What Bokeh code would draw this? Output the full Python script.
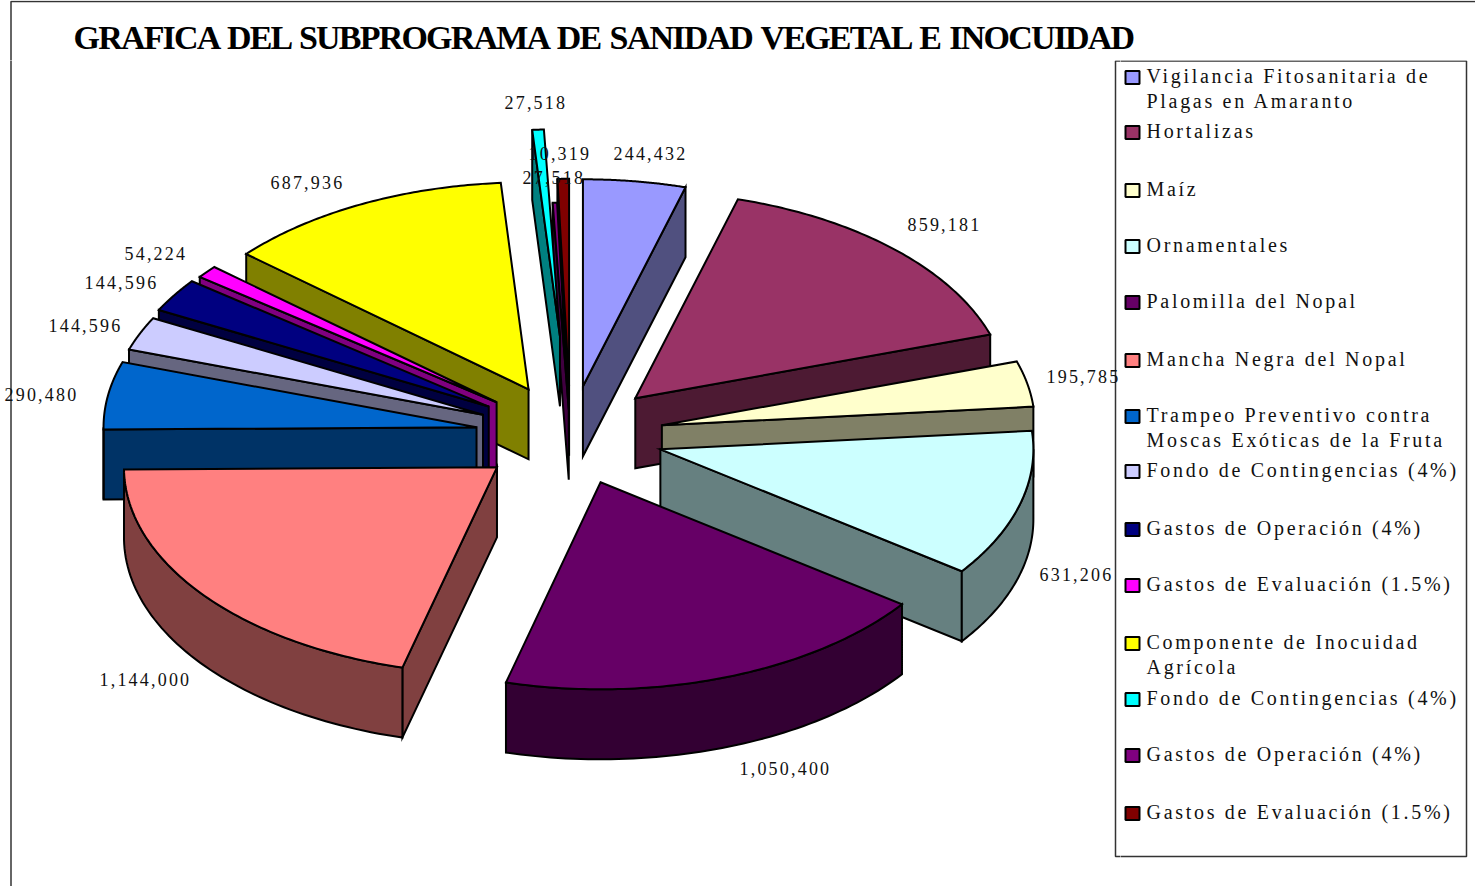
import numpy as np
from bokeh.plotting import figure
from bokeh.layouts import column, row
from bokeh.models import ColumnDataSource, Range1d
from bokeh.core.properties import value
from bokeh.embed import file_html
from bokeh.resources import INLINE

TITLE = "GRAFICA DEL SUBPROGRAMA DE SANIDAD VEGETAL E INOCUIDAD"
legend_labels = [
    "Vigilancia Fitosanitaria de\nPlagas en Amaranto", "Hortalizas", "Maíz", "Ornamentales",
    "Palomilla del Nopal", "Mancha Negra del Nopal",
    "Trampeo Preventivo contra\nMoscas Exóticas de la Fruta",
    "Fondo de Contingencias (4%)", "Gastos de Operación (4%)", "Gastos de Evaluación (1.5%)",
    "Componente de Inocuidad\nAgrícola", "Fondo de Contingencias (4%)",
    "Gastos de Operación (4%)", "Gastos de Evaluación (1.5%)",
]
amounts = [244432, 859181, 195785, 631206, 1050400, 1144000, 290480,
           144596, 144596, 54224, 687936, 27518, 10319, 27518]
top_colors = ["#9999FF", "#993366", "#FFFFCC", "#CCFFFF", "#660066", "#FF8080", "#0066CC",
              "#CCCCFF", "#000080", "#FF00FF", "#FFFF00", "#00FFFF", "#800080", "#800000"]
side_colors = ["#50507F", "#4D1A33", "#808066", "#668080", "#330033", "#804040", "#003366",
               "#666680", "#000040", "#800080", "#808000", "#008080", "#400040", "#400000"]
explode = [.24, .25, .25, .25, .24, .25, .255, .255, .26, .255, .25, .48, .125, .24]

# layout of the pie (pixels of the picture)
CX, CY, RX, RY, DEPTH = 570, 435, 373, 207, 70
TOP_H, MAIN_W = 60, 1120
label_x = [613, 907, 1046, 1039, 739, 99, 4, 48, 84, 124, 270, 504, 528, 522]
label_y = [153, 224, 376, 574, 768, 679, 394, 325, 282, 253, 182, 102, 153, 177]
legend_y = [77, 132, 190, 246, 302, 360, 416, 471, 529, 585, 643, 699, 755, 813]

def base(w, h, xr, yr, spacing, word=0):
    css = f":host {{ letter-spacing: {spacing}px; word-spacing: {word}px; }}"
    f = figure(width=w, height=h, x_range=Range1d(*xr), y_range=Range1d(*yr),
               output_backend="svg", toolbar_location=None, min_border=0,
               outline_line_color=None, stylesheets=[css])
    f.axis.visible = False
    f.grid.visible = False
    f.margin = 0
    return f

# title strip
t = base(1475, TOP_H, (0, 1475), (TOP_H, 0), -1.8, 2.6)
t.line([10.5, 10.5, 1475], [TOP_H + 2, 1, 1], line_color="#333333", line_width=1.5)
t.text([73], [37], text=[TITLE], text_font=value("Liberation Serif"), text_font_style="bold",
       text_font_size="34px", text_baseline="middle", text_align="left", text_color="black")

# pie
p = base(MAIN_W, 886 - TOP_H, (0, MAIN_W), (886, TOP_H), 2.2)
p.line([10.5, 10.5], [TOP_H - 2, 886], line_color="#333333", line_width=1.5)
p.line([MAIN_W, 1115, 1115, MAIN_W], [60.5, 60.5, 856, 856], line_color="#333333", line_width=1.5)

vals = np.array(amounts, float)
edges = np.concatenate([[0], np.cumsum(vals)]) / vals.sum() * 2 * np.pi
mids = (edges[:-1] + edges[1:]) / 2

def pt(ax, ay, th):
    return ax + RX * np.sin(th), ay - RY * np.cos(th)

xs, ys, fills = [], [], []
for i in np.argsort(-np.cos(mids), kind="stable"):
    a0, a1 = edges[i], edges[i + 1]
    ax = CX + explode[i] * RX * np.sin(mids[i])
    ay = CY - explode[i] * RY * np.cos(mids[i])
    # cut faces, when they look towards the viewer
    for th, sign in ((a0, -1), (a1, 1)):
        if np.cos(th + sign * np.pi / 2) < 0:
            ex, ey = pt(ax, ay, th)
            xs.append([ax, ex, ex, ax]); ys.append([ay, ey, ey + DEPTH, ay + DEPTH])
            fills.append(side_colors[i])
    # outer wall
    lo, hi = max(a0, np.pi / 2), min(a1, 3 * np.pi / 2)
    if hi > lo:
        th = np.linspace(lo, hi, 60)
        ex, ey = pt(ax, ay, th)
        xs.append(list(ex) + list(ex[::-1])); ys.append(list(ey) + list((ey + DEPTH)[::-1]))
        fills.append(side_colors[i])
    # top face
    th = np.linspace(a0, a1, 80)
    ex, ey = pt(ax, ay, th)
    xs.append([ax] + list(ex)); ys.append([ay] + list(ey))
    fills.append(top_colors[i])

p.patches("xs", "ys", source=ColumnDataSource(dict(xs=xs, ys=ys, fill=fills)), fill_color="fill",
          line_color="black", line_width=2, line_join="miter")

p.text(label_x, label_y, text=[f"{v:,}" for v in amounts], text_font=value("Liberation Serif"),
       text_font_size="18px", text_baseline="middle", text_align="left", text_color="#111111")

# legend
lg = base(1475 - MAIN_W, 886 - TOP_H, (MAIN_W, 1475), (886, TOP_H), 2.7)
lg.quad(left=[1115], right=[1466], top=[60.5], bottom=[856], fill_color="white",
        line_color="#333333", line_width=1.5)
lg.quad(left=[1125] * 14, right=[1139] * 14, top=[y - 6.5 for y in legend_y],
        bottom=[y + 6.5 for y in legend_y], fill_color=top_colors, line_color="black", line_width=2)
tx, ty, tt = [], [], []
for y, lab in zip(legend_y, legend_labels):
    for j, part in enumerate(lab.split("\n")):
        tx.append(1146); ty.append(y - 1.5 + j * 24.5); tt.append(part)
lg.text(tx, ty, text=tt, text_font=value("Liberation Serif"), text_font_size="20px",
        text_baseline="middle", text_align="left", text_color="#111111")

page = column(t, row(p, lg, spacing=0), spacing=0)
open("out.html", "w").write(file_html(page, INLINE))
